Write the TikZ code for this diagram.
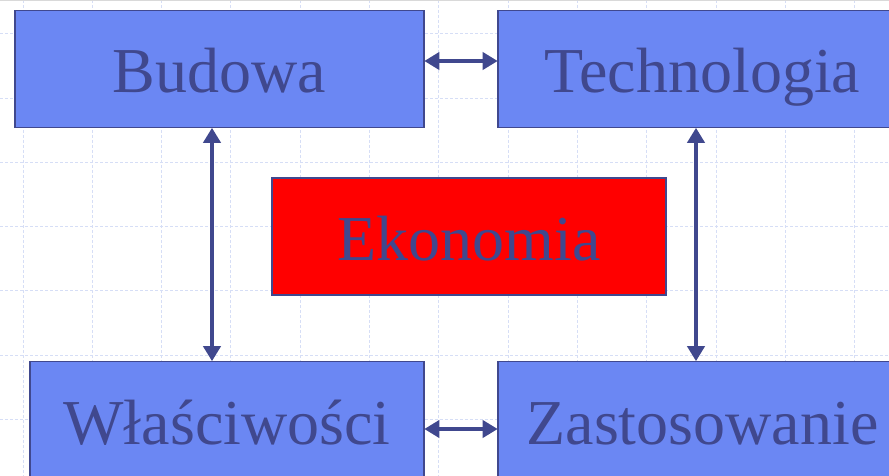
\documentclass[tikz,border=0pt]{standalone}
\usepackage{fontspec}
\setmainfont{Liberation Serif}
\usetikzlibrary{arrows.meta}
\definecolor{boxblue}{RGB}{107,135,243}
\definecolor{inkblue}{RGB}{64,72,142}
\definecolor{gridblue}{RGB}{214,222,246}
\tikzset{
  panel/.style={draw=inkblue, line width=1.6pt, fill=boxblue,
    minimum width=394pt, minimum height=117pt, inner sep=0pt,
    text height=60pt, text depth=12pt,
    text=inkblue, font=\fontsize{64}{70}\selectfont},
  link/.style={draw=inkblue, line width=4pt,
    {Triangle[length=15pt,width=17pt]}-{Triangle[length=15pt,width=17pt]}, shorten <=-0.5pt, shorten >=-0.5pt},
  gridline/.style={draw=gridblue, line width=1pt, dash pattern=on 3pt off 2pt}
}
\begin{document}
\begin{tikzpicture}[x=1pt,y=-1pt]
  \useasboundingbox (0,0) rectangle (889,476);
  \fill[white] (0,0) rectangle (889,476);
  % faint dashed background grid
  \foreach \i in {0,...,12} \draw[gridline] ({23+69.3*\i},0) -- ({23+69.3*\i},476);
  \foreach \j in {0,...,6} \draw[gridline] (0,{34+64.2*\j}) -- (889,{34+64.2*\j});
  \draw[gray!30, line width=1pt] (0,0.5) -- (889,0.5);
  % boxes
  \begin{scope}
    \clip (0,0) rectangle (889,476);
    \node[panel, minimum width=409pt] (budowa) at (219.5,69) {Budowa};
    \node[panel, minimum width=409pt] (tech) at (702.5,69) {Technologia};
    \node[panel, fill=red] (ekon) at (469,236.5) {Ekonomia};
    \node[panel] (wlasc) at (227,420) {Właściwości};
    \node[panel, minimum width=409pt] (zast) at (702.5,420) {Zastosowanie};
  \end{scope}
  % connectors
  \coordinate (lx) at (212,0);
  \coordinate (rx) at (696,0);
  \coordinate (ty) at (0,61);
  \coordinate (by) at (0,429);
  \draw[link] (budowa.east |- ty) -- (tech.west |- ty);
  \draw[link] (wlasc.east |- by) -- (zast.west |- by);
  \draw[link] (budowa.south -| lx) -- (wlasc.north -| lx);
  \draw[link] (tech.south -| rx) -- (zast.north -| rx);
\end{tikzpicture}
\end{document}
